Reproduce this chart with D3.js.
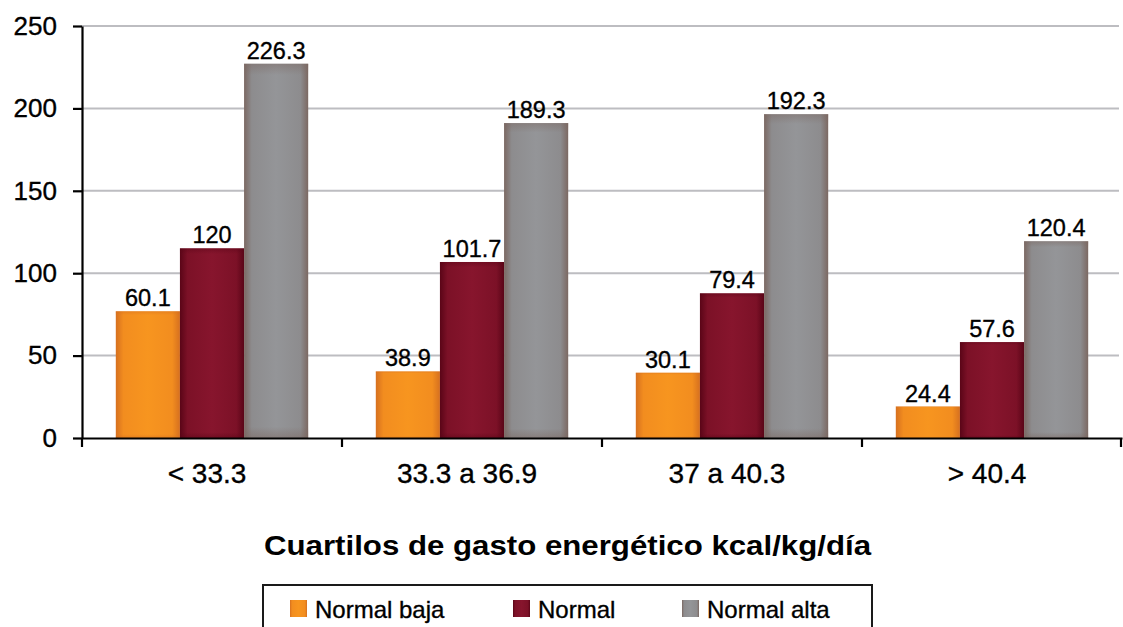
<!DOCTYPE html>
<html>
<head>
<meta charset="utf-8">
<script src="https://cdn.jsdelivr.net/npm/d3@7"></script>
<style>
  html, body { margin: 0; padding: 0; background: #fff; }
  svg { display: block; font-family: "Liberation Sans", Arial, Helvetica, sans-serif; }
  .txt { fill: #000; stroke: #000; stroke-width: 0.35px; }
</style>
</head>
<body>
<svg id="chart" width="1123" height="627"></svg>
<script>
// ---- data ----
const categories = ["< 33.3", "33.3 a 36.9", "37 a 40.3", "> 40.4"];
const seriesNames = ["Normal baja", "Normal", "Normal alta"];
// bar heights as drawn in the picture
const normalBaja = [76.9, 40.4, 39.6, 19.1];
const normal     = [115.1, 106.8, 87.8, 58.2];
const normalAlta = [227.1, 191.1, 196.5, 119.4];
// value labels printed above the bars
const labelsBaja = ["60.1", "38.9", "30.1", "24.4"];
const labelsNormal = ["120", "101.7", "79.4", "57.6"];
const labelsAlta = ["226.3", "189.3", "192.3", "120.4"];
const yTicks = [0, 50, 100, 150, 200, 250];
const xTitle = "Cuartilos de gasto energético kcal/kg/día";

const seriesValues = [normalBaja, normal, normalAlta];
const seriesLabels = [labelsBaja, labelsNormal, labelsAlta];
const colors = [
  { edge: "#d6701f", mid: "#f28d1f", center: "#f7951f" },
  { edge: "#5a0517", mid: "#7c1127", center: "#87152d" },
  { edge: "#7b6862", mid: "#8d8c8e", center: "#949598" }
];

const svg = d3.select("#chart");
const mLeft = 82, mRight = 1122, mTop = 26, mBottom = 438;

const x0 = d3.scaleBand().domain(categories).range([mLeft, mRight]).padding(0);
const bw = x0.bandwidth();
const x1 = d3.scaleBand().domain(seriesNames).range([bw * 0.13, bw * 0.87]).padding(0);
const y = d3.scaleLinear().domain([0, 250]).range([mBottom, mTop]);

// gradients
const defs = svg.append("defs");
colors.forEach((c, i) => {
  const g = defs.append("linearGradient").attr("id", "h" + i)
    .attr("x1", "0").attr("x2", "1").attr("y1", "0").attr("y2", "0");
  [[0, c.edge], [0.12, c.mid], [0.5, c.center], [0.88, c.mid], [1, c.edge]]
    .forEach(([o, col]) => g.append("stop").attr("offset", o).attr("stop-color", col));
  const v = defs.append("linearGradient").attr("id", "v" + i)
    .attr("x1", "0").attr("x2", "0").attr("y1", "0").attr("y2", "1");
  [[0, c.edge, 0.45], [0.03, c.edge, 0.0], [0.97, c.edge, 0.0], [1, c.edge, 0.5]]
    .forEach(([o, col, op]) => v.append("stop").attr("offset", o).attr("stop-color", col).attr("stop-opacity", op));
});

// gridlines
svg.append("g").selectAll("line")
  .data(yTicks.filter(d => d > 0))
  .join("line")
  .attr("x1", mLeft).attr("x2", 1119)
  .attr("y1", d => y(d)).attr("y2", d => y(d))
  .attr("stroke", "#bdbdc1").attr("stroke-width", 2);

// bars
const groups = svg.append("g").selectAll("g")
  .data(categories)
  .join("g")
  .attr("transform", d => `translate(${x0(d)},0)`);

groups.each(function(cat, ci) {
  const g = d3.select(this);
  seriesNames.forEach((s, si) => {
    const v = seriesValues[si][ci];
    g.append("rect")
      .attr("x", x1(s)).attr("width", x1.bandwidth())
      .attr("y", y(v)).attr("height", y(0) - y(v))
      .attr("fill", `url(#h${si})`);
    g.append("rect")
      .attr("x", x1(s)).attr("width", x1.bandwidth())
      .attr("y", y(v)).attr("height", y(0) - y(v))
      .attr("fill", `url(#v${si})`);
    g.append("text")
      .attr("class", "txt")
      .attr("x", x1(s) + x1.bandwidth() / 2)
      .attr("y", y(v) - 5)
      .attr("text-anchor", "middle")
      .attr("font-size", "23.5px")
      .text(seriesLabels[si][ci]);
  });
});

// y axis
const yAxis = svg.append("g")
  .attr("transform", `translate(${mLeft},0)`)
  .call(d3.axisLeft(y).tickValues(yTicks).tickSize(9).tickSizeOuter(0).tickPadding(16));
yAxis.select(".domain").attr("stroke", "#000").attr("stroke-width", 2.2);
yAxis.selectAll(".tick line").attr("stroke", "#000").attr("stroke-width", 2.2);
yAxis.selectAll("text").attr("class", "txt").attr("font-size", "26px")
  .attr("font-family", "'Liberation Sans', Arial, sans-serif");

// x axis (labels)
const xAxis = svg.append("g")
  .attr("transform", `translate(0,${mBottom})`)
  .call(d3.axisBottom(x0).tickSize(0).tickSizeOuter(0).tickPadding(25));
xAxis.select(".domain").attr("stroke", "#000").attr("stroke-width", 2.2);
xAxis.selectAll("text").attr("class", "txt").attr("font-size", "28px").attr("dx", -5)
  .attr("font-family", "'Liberation Sans', Arial, sans-serif");

// boundary ticks
const bounds = categories.map(c => x0(c)).concat([x0(categories[categories.length - 1]) + bw]);
svg.append("g").selectAll("line").data(bounds).join("line")
  .attr("x1", d => Math.min(d, 1121)).attr("x2", d => Math.min(d, 1121))
  .attr("y1", mBottom).attr("y2", mBottom + 9)
  .attr("stroke", "#000").attr("stroke-width", 2.2);

// x title
svg.append("text")
  .attr("x", 264).attr("y", 555)
  .attr("font-size", "27px").attr("font-weight", "bold").attr("fill", "#000")
  .attr("textLength", 607).attr("lengthAdjust", "spacingAndGlyphs")
  .text(xTitle);

// legend
svg.append("rect")
  .attr("x", 263).attr("y", 585).attr("width", 609).attr("height", 80)
  .attr("fill", "#fff").attr("stroke", "#1a1a1a").attr("stroke-width", 2);
const legendX = [290, 513, 682];
seriesNames.forEach((s, i) => {
  svg.append("rect")
    .attr("x", legendX[i]).attr("y", 600).attr("width", 17).attr("height", 17)
    .attr("fill", `url(#h${i})`);
  svg.append("text")
    .attr("class", "txt")
    .attr("x", legendX[i] + 25).attr("y", 618)
    .attr("font-size", "24px")
    .text(s);
});
</script>
</body>
</html>
